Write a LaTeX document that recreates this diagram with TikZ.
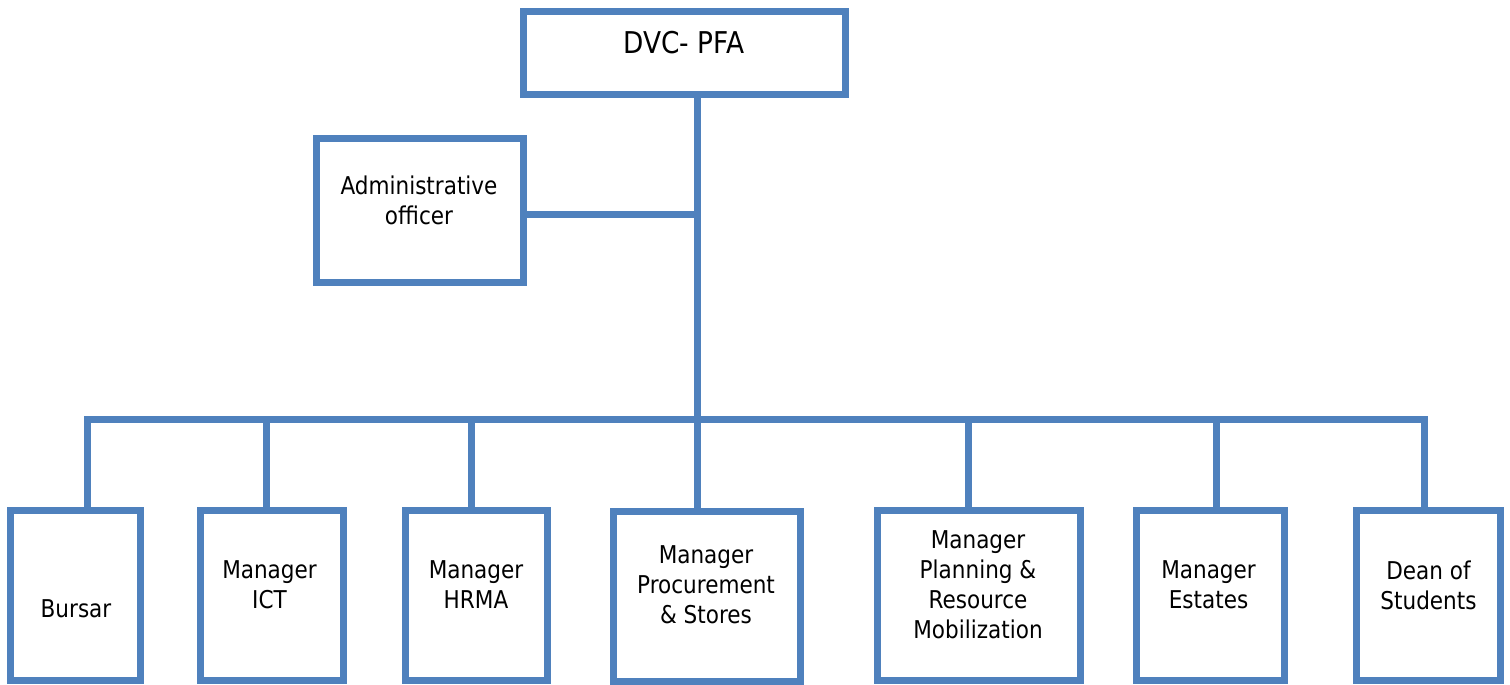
\documentclass[tikz,border=0pt]{standalone}
\usepackage{fontspec}
\setmainfont{DejaVu Sans}[FakeStretch=0.88]
\definecolor{orgblue}{HTML}{4F81BD}
\begin{document}
\begin{tikzpicture}[x=1pt,y=-1pt,
  unit/.style n args={2}{draw=orgblue, line width=7pt, fill=white,
    rectangle, inner sep=0pt, outer sep=0pt,
    minimum width=#1pt, minimum height=#2pt},
  caption/.style={align=center, inner sep=0pt, font=\fontsize{24.5}{30}\selectfont},
  link/.style={draw=orgblue, line width=7pt}]
\useasboundingbox (0,0) rectangle (1510,685);

% junction points on the stem and the bus
\coordinate (adj) at (697,214);
\coordinate (hub) at (697,419);
\coordinate (d1) at (87,419);
\coordinate (d2) at (266,419);
\coordinate (d3) at (471,419);
\coordinate (d5) at (968,419);
\coordinate (d6) at (1216,419);
\coordinate (d7) at (1424,419);

% boxes
\node[unit={322}{82}]  (top)   at (684,53) {};
\node[unit={207}{144}] (admin) at (419.5,210) {};
\node[unit={130}{170}] (bursar) at (75.5,595.5) {};
\node[unit={143.5}{170}] (ict) at (271.75,595.5) {};
\node[unit={142.5}{170}] (hrma) at (476.25,595.5) {};
\node[unit={186.5}{170}] (proc) at (706.75,596.5) {};
\node[unit={202.5}{170}] (plan) at (978.75,595.5) {};
\node[unit={148}{170}] (estates) at (1210,595.5) {};
\node[unit={144}{170}] (dean) at (1428,595.5) {};

% connectors
\draw[link] (top.south -| hub) -- (hub);
\draw[link] (admin.east |- adj) -- (adj);
\draw[link] (d1 |- bursar.north) -- (d1) -- (d7) -- (d7 |- dean.north);
\draw[link] (d2) -- (d2 |- ict.north);
\draw[link] (d3) -- (d3 |- hrma.north);
\draw[link] (hub) -- (hub |- proc.north);
\draw[link] (d5) -- (d5 |- plan.north);
\draw[link] (d6) -- (d6 |- estates.north);

% texts
\node[caption, font=\fontsize{30}{36}\selectfont] (ttop) at (684,42.5) {DVC- PFA};
\node[caption] (tadmin) at (419,200) {Administrative\\officer};
\node[caption] (tbursar) at (76,609) {Bursar};
\node[caption] (tict) at (269.5,585) {Manager\\ICT};
\node[caption] (thrma) at (476,585) {Manager\\HRMA};
\node[caption] (tproc) at (706,585) {Manager\\Procurement\\\& Stores};
\node[caption] (tplan) at (978,585) {Manager\\Planning \&\\Resource\\Mobilization};
\node[caption] (test) at (1208.5,585) {Manager\\Estates};
\node[caption] (tdean) at (1428.5,585) {Dean of\\Students};
\end{tikzpicture}
\end{document}
